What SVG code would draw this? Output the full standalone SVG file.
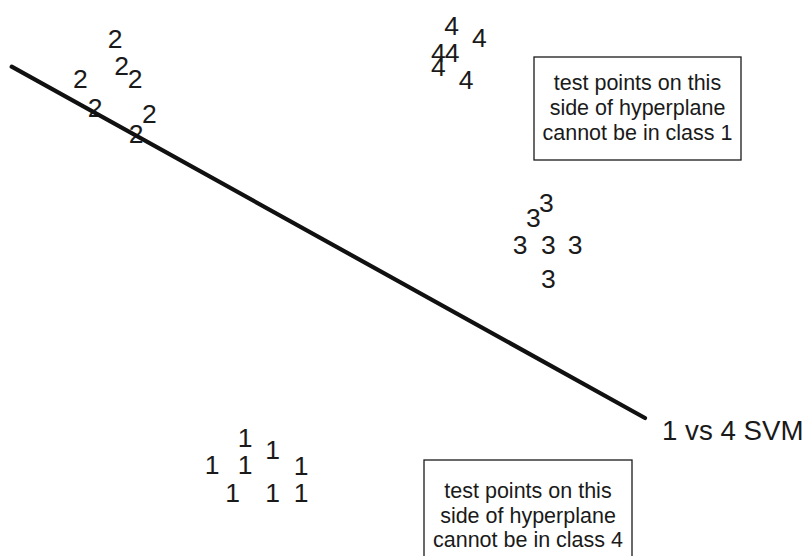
<svg xmlns="http://www.w3.org/2000/svg" width="805" height="556" viewBox="0 0 805 556">
<style>
.d{font-family:"Liberation Sans",Arial,sans-serif;font-size:26.5px;fill:#1a1a1a;text-anchor:middle}
.lbl{font-family:"Liberation Sans",Arial,sans-serif;font-size:27.7px;fill:#1a1a1a}
.bt{font-family:"Liberation Sans",Arial,sans-serif;font-size:21.5px;fill:#1a1a1a;text-anchor:middle}
.box{fill:#fff;stroke:#1a1a1a;stroke-width:1.3}
</style>
<rect width="805" height="556" fill="#fff"/>
<g id="class2">
<text class="d" x="115" y="48.3">2</text>
<text class="d" x="121.7" y="75">2</text>
<text class="d" x="135" y="88.3">2</text>
<text class="d" x="80.3" y="88.3">2</text>
<text class="d" x="95" y="116.7">2</text>
<text class="d" x="149.3" y="123.3">2</text>
<text class="d" x="136" y="143.3">2</text>
</g>
<g id="class4">
<text class="d" x="451.7" y="35">4</text>
<text class="d" x="479.3" y="47.3">4</text>
<text class="d" x="438.3" y="61.7">4</text>
<text class="d" x="452" y="61.7">4</text>
<text class="d" x="438.3" y="75.7">4</text>
<text class="d" x="466" y="89.3">4</text>
</g>
<g id="class3">
<text class="d" x="546.3" y="211.7">3</text>
<text class="d" x="533.3" y="226.7">3</text>
<text class="d" x="520" y="254">3</text>
<text class="d" x="548.3" y="254">3</text>
<text class="d" x="575" y="254">3</text>
<text class="d" x="548.3" y="288.3">3</text>
</g>
<g id="class1">
<text class="d" x="245" y="446.7">1</text>
<text class="d" x="272.7" y="459.3">1</text>
<text class="d" x="212" y="474">1</text>
<text class="d" x="245" y="474">1</text>
<text class="d" x="301" y="474.5">1</text>
<text class="d" x="232.5" y="501.7">1</text>
<text class="d" x="272.5" y="501.7">1</text>
<text class="d" x="301" y="501.7">1</text>
</g>
<g id="connectors">
<line x1="11.7" y1="66.7" x2="645" y2="418" stroke="#111" stroke-width="4.2" stroke-linecap="round"/>
</g>
<g id="svm-label">
<text class="lbl" x="662" y="440">1 vs 4 SVM</text>
</g>
<g id="note-class1">
<rect class="box" x="534" y="57" width="207" height="103"/>
<text class="bt" x="637.5" y="90">test points on this</text>
<text class="bt" x="637.5" y="115">side of hyperplane</text>
<text class="bt" x="637.5" y="140">cannot be in class 1</text>
</g>
<g id="note-class4">
<rect class="box" x="424" y="460" width="208" height="103"/>
<text class="bt" x="528" y="498">test points on this</text>
<text class="bt" x="528" y="522.5">side of hyperplane</text>
<text class="bt" x="528" y="547">cannot be in class 4</text>
</g>
</svg>
